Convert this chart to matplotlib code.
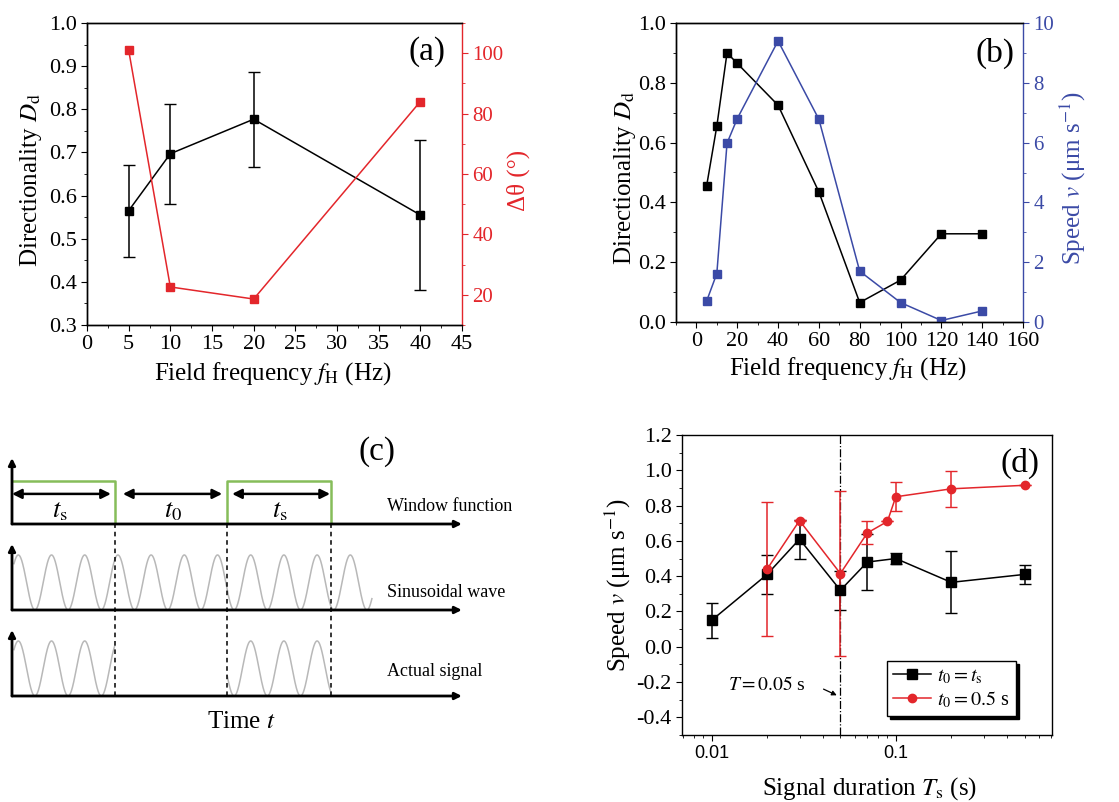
import numpy as np
import matplotlib
matplotlib.use("Agg")
import matplotlib.pyplot as plt
from matplotlib.ticker import MultipleLocator, FixedLocator

plt.rcParams['font.family'] = ['Liberation Serif', 'DejaVu Serif']
plt.rcParams['mathtext.fontset'] = 'stix'
plt.rcParams['xtick.direction'] = 'out'
plt.rcParams['ytick.direction'] = 'out'
plt.rcParams['xtick.major.size'] = 4
plt.rcParams['ytick.major.size'] = 4
plt.rcParams['xtick.minor.size'] = 2.5
plt.rcParams['ytick.minor.size'] = 2.5
plt.rcParams['axes.linewidth'] = 1.0

RED = '#e3262b'
BLUE = '#3b4aa6'
GREEN = '#86bd5a'
GREY = '#b8b8b8'

TICK = 16
LABEL = 18
PANEL = 24

# panel (a): directionality and angle vs field frequency
freq_a = [5, 10, 20, 40]
dir_a = [0.565, 0.697, 0.777, 0.555]
dir_a_lo = [0.457, 0.580, 0.667, 0.380]
dir_a_hi = [0.670, 0.813, 0.887, 0.728]
angle_a = [101, 22.6, 18.6, 84]

# panel (b): directionality and speed vs field frequency
freq_b = [5, 10, 15, 20, 40, 60, 80, 100, 120, 140]
dir_b = [0.455, 0.655, 0.900, 0.865, 0.725, 0.435, 0.065, 0.140, 0.295, 0.295]
speed_b = [0.70, 1.62, 5.98, 6.80, 9.40, 6.78, 1.70, 0.65, 0.05, 0.37]

# panel (d): speed vs signal duration
dur_black = [0.01, 0.02, 0.03, 0.05, 0.07, 0.1, 0.2, 0.5]
speed_black = [0.15, 0.41, 0.61, 0.32, 0.48, 0.50, 0.365, 0.41]
err_black = [0.10, 0.11, 0.11, 0.11, 0.16, 0.03, 0.175, 0.055]
dur_red = [0.02, 0.03, 0.05, 0.07, 0.09, 0.1, 0.2, 0.5]
speed_red = [0.44, 0.715, 0.415, 0.645, 0.71, 0.85, 0.895, 0.915]
err_red = [0.38, 0.005, 0.465, 0.065, 0.0, 0.083, 0.103, 0.0]

# panel (c): schematic, times in units of one sine period
window_edges = [0.0, 3.1, 6.48, 9.6]
sine_span = (0.06, 10.84)
peak_phase = 0.19
axis_end = 13.55

fig = plt.figure(figsize=(11.19, 8.02), dpi=100)
W, H = 1119.0, 802.0


def px_axes(left, top, right, bottom):
    return fig.add_axes([left / W, 1 - bottom / H, (right - left) / W, (bottom - top) / H])


# ---------------- (a)
ax = px_axes(87, 23, 462, 325)
lo = np.array(dir_a) - np.array(dir_a_lo)
hi = np.array(dir_a_hi) - np.array(dir_a)
ax.errorbar(freq_a, dir_a, yerr=[lo, hi], color='k', marker='s', ms=6, lw=1.1,
            capsize=4, elinewidth=1.1)
ax.set_xlim(0, 45)
ax.set_ylim(0.3, 1.0)
ax.xaxis.set_major_locator(MultipleLocator(5))
ax.xaxis.set_minor_locator(MultipleLocator(2.5))
ax.yaxis.set_major_locator(MultipleLocator(0.1))
ax.yaxis.set_minor_locator(MultipleLocator(0.05))
ax.yaxis.set_major_formatter(plt.FormatStrFormatter('%.1f'))
ax.tick_params(labelsize=TICK)
ax.spines['right'].set_visible(False)
ax.set_xlabel(r'Field frequency $f_\mathrm{H}$ (Hz)', fontsize=LABEL)
ax.set_ylabel(r'Directionality $D_\mathrm{d}$', fontsize=LABEL)
ax.xaxis.set_label_coords(0.496, -0.115)
ax.yaxis.set_label_coords(-0.116, 0.48)
ax.text(0.907, 0.904, '(a)', transform=ax.transAxes, fontsize=PANEL, ha='center', va='center')
ax2 = ax.twinx()
ax2.plot(freq_a, angle_a, color=RED, marker='s', ms=5.5, lw=1.1)
ax2.set_ylim(10, 110)
ax2.yaxis.set_major_locator(MultipleLocator(20))
ax2.yaxis.set_minor_locator(MultipleLocator(10))
ax2.tick_params(axis='y', which='both', colors=RED, labelsize=15)
ax2.spines['right'].set_color(RED)
ax2.set_ylabel('Δθ (°)', color=RED, fontsize=LABEL)
ax2.yaxis.set_label_coords(1.12, 0.48)

# ---------------- (b)
bx = px_axes(676, 23, 1023, 322)
bx.plot(freq_b, dir_b, color='k', marker='s', ms=6, lw=1.1)
bx.set_xlim(-10, 160)
bx.set_ylim(0, 1.0)
bx.xaxis.set_major_locator(MultipleLocator(20))
bx.xaxis.set_minor_locator(MultipleLocator(10))
bx.yaxis.set_major_locator(MultipleLocator(0.2))
bx.yaxis.set_minor_locator(MultipleLocator(0.1))
bx.yaxis.set_major_formatter(plt.FormatStrFormatter('%.1f'))
bx.tick_params(labelsize=TICK)
bx.spines['right'].set_visible(False)
bx.set_xlabel(r'Field frequency $f_\mathrm{H}$ (Hz)', fontsize=LABEL)
bx.set_ylabel(r'Directionality $D_\mathrm{d}$', fontsize=LABEL)
bx.xaxis.set_label_coords(0.496, -0.112)
bx.yaxis.set_label_coords(-0.110, 0.48)
bx.text(0.919, 0.90, '(b)', transform=bx.transAxes, fontsize=PANEL, ha='center', va='center')
bx2 = bx.twinx()
bx2.plot(freq_b, speed_b, color=BLUE, marker='s', ms=5.5, lw=1.1)
bx2.set_ylim(0, 10)
bx2.yaxis.set_major_locator(MultipleLocator(2))
bx2.yaxis.set_minor_locator(MultipleLocator(1))
bx2.tick_params(axis='y', which='both', colors=BLUE, labelsize=15)
bx2.spines['right'].set_color(BLUE)
bx2.set_ylabel(r'Speed $v$ (μm s$^{-1}$)', color=BLUE, fontsize=LABEL)
bx2.yaxis.set_label_coords(1.10, 0.48)

# ---------------- (c) schematic
cx = px_axes(0, 420, 590, 802)
cx.set_xlim(-12 / 33.2, 578 / 33.2)
cx.set_ylim(-106 / 86, 276 / 86)
cx.axis('off')
rows = [2, 1, 0]
arrow_kw = dict(arrowstyle='-|>', color='k', lw=2, mutation_scale=10, shrinkA=0, shrinkB=0)
for b in rows:
    cx.annotate('', xy=(axis_end, b), xytext=(0, b), arrowprops=arrow_kw)
    cx.annotate('', xy=(0, b + 0.767), xytext=(0, b), arrowprops=arrow_kw)

# window function
e0, e1, e2, e3 = window_edges
cx.plot([e0, e1, e1], [2.5, 2.5, 2.0], color=GREEN, lw=1.8, solid_capstyle='butt')
cx.plot([e2, e2, e3, e3], [2.0, 2.5, 2.5, 2.0], color=GREEN, lw=1.8, solid_capstyle='butt')
dbl = dict(arrowstyle='<|-|>', color='k', lw=1.8, mutation_scale=14, shrinkA=0, shrinkB=0)
for a, b in [(0.0, 2.98), (3.34, 6.33), (6.63, 9.58)]:
    cx.annotate('', xy=(b, 2.35), xytext=(a, 2.35), arrowprops=dbl)
cx.text(1.45, 2.14, r'$t_\mathrm{s}$', fontsize=19, ha='center', va='center')
cx.text(4.85, 2.14, r'$t_0$', fontsize=19, ha='center', va='center')
cx.text(8.07, 2.14, r'$t_\mathrm{s}$', fontsize=19, ha='center', va='center')

# sinusoidal wave and windowed signal
amp = 0.64
t = np.linspace(sine_span[0], sine_span[1], 2000)
wave = amp / 2 * (1 + np.cos(2 * np.pi * (t - peak_phase)))
cx.plot(t, 1 + wave, color=GREY, lw=1.1)
for a, b in [(sine_span[0], e1), (e2, e3)]:
    m = (t >= a) & (t <= b)
    cx.plot(t[m], wave[m], color=GREY, lw=1.1)

for e in [e1, e2, e3]:
    cx.plot([e, e], [0, 2], color='k', lw=1.1, ls=(0, (3, 2.5)))

cx.text(11.3, 2.2, 'Window function', fontsize=13, va='center')
cx.text(11.3, 1.2, 'Sinusoidal wave', fontsize=13, va='center')
cx.text(11.3, 0.28, 'Actual signal', fontsize=13, va='center')
cx.text(6.9, -0.3, r'Time $t$', fontsize=18, ha='center', va='center')
cx.text(11.0, 2.84, '(c)', fontsize=PANEL, ha='center', va='center')

# ---------------- (d)
dx = px_axes(682, 435, 1052, 735)
dx.axvline(0.05, color='k', lw=0.9, ls='-.', zorder=1)
eb1 = dx.errorbar(dur_black, speed_black, yerr=err_black, color='k', marker='s', ms=6.5,
                  lw=1.1, capsize=4, elinewidth=1.1)
eb2 = dx.errorbar(dur_red, speed_red, yerr=err_red, color=RED, marker='o', ms=6,
                  lw=1.1, capsize=4, elinewidth=1.1)
dx.set_xscale('log')
dx.set_xlim(0.0069, 0.705)
dx.set_ylim(-0.5, 1.2)
dx.xaxis.set_major_locator(FixedLocator([0.01, 0.1]))
dx.xaxis.set_major_formatter(plt.FuncFormatter(lambda v, p: '%g' % v))
dx.yaxis.set_major_locator(MultipleLocator(0.2))
dx.yaxis.set_minor_locator(MultipleLocator(0.1))
dx.yaxis.set_major_formatter(plt.FormatStrFormatter('%.1f'))
dx.tick_params(axis='y', labelsize=TICK)
dx.tick_params(axis='x', labelsize=13)
for lab in dx.get_xticklabels():
    lab.set_family(['Liberation Sans', 'DejaVu Sans'])
dx.set_xlabel(r'Signal duration $T_\mathrm{s}$ (s)', fontsize=LABEL)
dx.set_ylabel(r'Speed $v$ (μm s$^{-1}$)', fontsize=LABEL)
dx.xaxis.set_label_coords(0.508, -0.135)
dx.yaxis.set_label_coords(-0.132, 0.5)
dx.text(0.914, 0.907, '(d)', transform=dx.transAxes, fontsize=PANEL, ha='center', va='center')
dx.text(0.0199, -0.218, r'$T = 0.05$ s', fontsize=14, ha='center', va='center')
dx.annotate('', xy=(0.0478, -0.275), xytext=(0.0405, -0.24),
            arrowprops=dict(arrowstyle='-|>', color='k', lw=0.9, mutation_scale=7,
                            shrinkA=0, shrinkB=0))
leg = dx.legend([eb1.lines[0], eb2.lines[0]],
                [r'$t_0 = t_\mathrm{s}$', r'$t_0 = 0.5$ s'],
                loc='lower left', bbox_to_anchor=(0.554, 0.063), fontsize=14.5,
                fancybox=False, edgecolor='k', framealpha=1,
                shadow={'color': 'black', 'alpha': 1}, borderpad=0.3,
                handlelength=1.9, handletextpad=0.3, labelspacing=0.15,
                borderaxespad=0)
leg.get_frame().set_linewidth(1.0)

fig.savefig('out.png', dpi=100)
